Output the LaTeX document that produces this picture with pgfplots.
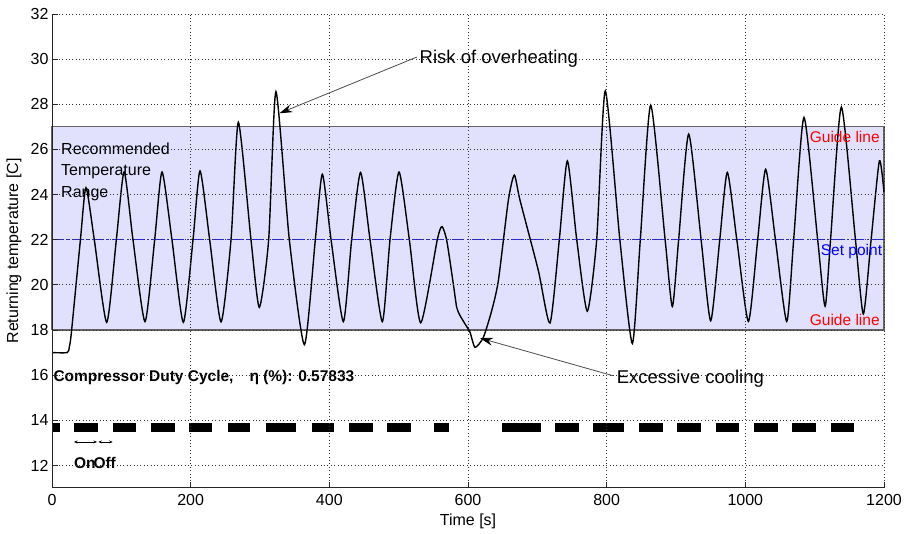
\documentclass[border=0pt]{standalone}
\usepackage{fontspec}
\setmainfont{Liberation Sans}
\usepackage{pgfplots}
\pgfplotsset{compat=1.18}
\usetikzlibrary{arrows.meta}
\definecolor{bandcol}{RGB}{225,225,253}
\definecolor{bandedge}{RGB}{100,100,100}
\definecolor{setblue}{RGB}{40,40,255}
\begin{document}
\begin{tikzpicture}[x=1bp,y=1bp]
\useasboundingbox (0,0) rectangle (906,534);
\begin{axis}[
  at={(52bp,46bp)}, anchor=south west,
  scale only axis, width=832bp, height=474bp,
  xmin=0, xmax=1200, ymin=11, ymax=32,
  xtick={0,200,...,1200}, ytick={12,14,...,32},
  axis x line*=bottom, axis y line*=left,
  tick align=inside, major tick length=6bp,
  grid=major,
  grid style={black!80, line width=0.7bp, dash pattern=on 0.8bp off 2.6bp},
  axis line style={black!85, line width=1bp},
  tick style={black!85, line width=0.8bp},
  axis on top,
  clip=false,
  scaled ticks=false,
  /pgf/number format/1000 sep={},
  /pgf/number format/assume math mode=true,
  ticklabel style={font=\fontsize{16bp}{19bp}\selectfont},
  xticklabel style={yshift=-3bp},
  xlabel={Time [s]}, ylabel={Returning temperature [C]},
  every axis x label/.style={at={(axis description cs:0.5,-0.0707)}, anchor=center, font=\fontsize{16bp}{19bp}\selectfont},
  every axis y label/.style={at={(axis description cs:-0.0457,0.5)}, anchor=center, rotate=90, font=\fontsize{16bp}{19bp}\selectfont},
]
% recommended range band
\addplot[fill=bandcol, draw=bandedge, line width=1.1bp] coordinates {(0,18) (1200,18) (1200,27) (0,27) (0,18)};
% set point
\addplot[setblue, line width=0.9bp, dash pattern=on 12bp off 3bp on 2bp off 3bp] coordinates {(0,22) (1200,22)};
% returning temperature
\addplot[black, line width=1.4bp, smooth, tension=0.38] coordinates {
(0,17.0)(22,17.0)(25,17.25)(28,17.9)(41,22)(49,24.3)(61,22)(78.9,18.34)(92.8,22)(104,25.0)(116.8,22)(134.1,18.37)(148.1,22)(158.7,25.0)(173,22)(189.4,18.34)(203.4,22)(213.5,25.05)(227.4,22)(243.8,18.36)(258.2,22)(268.8,27.2)(287,22)(299,19.0)(312.5,22)(323,28.56)(342.3,22)(364,17.35)(379.8,22)(389.9,24.9)(402.5,22)(420.2,18.37)(432.2,22)(445,24.98)(458.7,22)(476.4,18.37)(487.5,22)(500.5,25.0)(515.4,22)(531.8,18.32)(555.7,22)(562.5,22.58)(569.3,21.97)(578.8,20.04)(583.7,19.0)(588.5,18.64)(595.7,18.27)(602.9,17.9)(610.1,17.23)(622.1,17.67)(634.2,18.86)(643.8,20.19)(658.2,23.75)(666.8,24.86)(675,23.75)(701.4,20.64)(718.3,18.31)(731.7,22)(743.3,25.49)(756.8,22)(772,18.83)(785.6,22)(798,28.59)(819,22)(837,17.4)(848.5,22)(863.5,27.96)(884.3,22)(894.7,19.04)(903.8,22)(918.3,26.68)(936.2,22)(950,18.41)(963.1,22)(974,24.98)(987.7,22)(1004.4,18.38)(1017.8,22)(1029.3,25.12)(1043.4,22)(1059.7,18.38)(1069.7,22)(1084.6,27.42)(1104.3,22)(1115,19.05)(1122.9,22)(1138.5,27.88)(1158.8,22)(1170.2,18.71)(1181.4,22)(1193.3,25.49)(1200,24.1)
};
% compressor on periods
\addplot[black, line width=9bp, unbounded coords=jump] coordinates {
(0.5,13.67)(11.5,13.67)(nan,nan)
(31.7,13.67)(65.9,13.67)(nan,nan)
(88.5,13.67)(120.7,13.67)(nan,nan)
(142.3,13.67)(176.9,13.67)(nan,nan)
(197.6,13.67)(231.2,13.67)(nan,nan)
(253.4,13.67)(286,13.67)(nan,nan)
(308.2,13.67)(351.9,13.67)(nan,nan)
(374.6,13.67)(407.2,13.67)(nan,nan)
(428.9,13.67)(463.4,13.67)(nan,nan)
(483.7,13.67)(517.8,13.67)(nan,nan)
(551,13.67)(572.6,13.67)(nan,nan)
(649.5,13.67)(705.3,13.67)(nan,nan)
(726,13.67)(760,13.67)(nan,nan)
(780.8,13.67)(825.5,13.67)(nan,nan)
(847.1,13.67)(881.7,13.67)(nan,nan)
(902,13.67)(936,13.67)(nan,nan)
(957.3,13.67)(991.3,13.67)(nan,nan)
(1013,13.67)(1046.7,13.67)(nan,nan)
(1066.9,13.67)(1101.5,13.67)(nan,nan)
(1123.2,13.67)(1156.3,13.67)
};
% on / off arrows
\draw[black, line width=0.6bp, {Stealth[length=3.5bp,width=3bp]}-{Stealth[length=3.5bp,width=3bp]}] (axis cs:31.7,13.04) -- (axis cs:64.9,13.04);
\draw[black, line width=0.6bp, {Stealth[length=3.5bp,width=3bp]}-{Stealth[length=3.5bp,width=3bp]}] (axis cs:66.8,13.04) -- (axis cs:87.5,13.04);
\node[anchor=west, inner sep=0, font=\fontsize{15.5bp}{18bp}\selectfont\bfseries] at (axis cs:31.7,12.12) {On};
\node[anchor=west, inner sep=0, font=\fontsize{15.5bp}{18bp}\selectfont\bfseries] at (axis cs:59.6,12.12) {Off};
% texts
\node[anchor=west, inner sep=0, font=\fontsize{15.5bp}{18bp}\selectfont\bfseries] at (axis cs:1.9,15.9) {Compressor Duty Cycle,\hspace{16bp}η (\%): 0.57833};
\node[anchor=west, inner sep=0, font=\fontsize{16bp}{19bp}\selectfont] at (axis cs:13,26.04) {Recommended};
\node[anchor=west, inner sep=0, font=\fontsize{16bp}{19bp}\selectfont] at (axis cs:13,25.0) {Temperature};
\node[anchor=west, inner sep=0, font=\fontsize{16bp}{19bp}\selectfont] at (axis cs:13,24.04) {Range};
\node[anchor=east, inner sep=0, text=red, font=\fontsize{15.5bp}{18bp}\selectfont] at (axis cs:1194,26.53) {Guide line};
\node[anchor=east, inner sep=0, text=red, font=\fontsize{15.5bp}{18bp}\selectfont] at (axis cs:1194,18.44) {Guide line};
\node[anchor=east, inner sep=0, text=blue, font=\fontsize{15.5bp}{18bp}\selectfont] at (axis cs:1197.5,21.49) {Set point};
% annotations
\node[anchor=west, inner sep=0, font=\fontsize{18.5bp}{22bp}\selectfont] at (axis cs:530,30.0) {Risk of overheating};
\draw[black!70, line width=0.8bp, -{Stealth[length=13bp,width=8bp,black]}] (axis cs:526,30.09) -- (axis cs:328,27.6);
\node[anchor=west, inner sep=0, font=\fontsize{18.5bp}{22bp}\selectfont] at (axis cs:814.4,15.85) {Excessive cooling};
\draw[black!70, line width=0.8bp, -{Stealth[length=13bp,width=8bp,black]}] (axis cs:809.6,15.97) -- (axis cs:617.3,17.64);
\end{axis}
\end{tikzpicture}
\end{document}
